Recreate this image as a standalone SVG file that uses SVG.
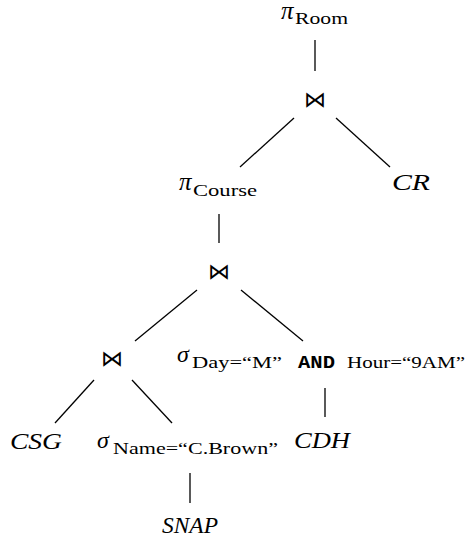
<svg xmlns="http://www.w3.org/2000/svg" width="468" height="544" viewBox="0 0 468 544">
<style>
text{font-family:"Liberation Serif","Times New Roman",serif;fill:#000}
.m{font-size:24px}
.p{font-size:25px;font-style:italic}
.s{font-size:17.5px}
.i{font-style:italic}
.tt{font-family:"Liberation Mono","Courier New",monospace;font-weight:bold}
.bt{font-family:"DejaVu Sans",sans-serif;font-size:22px;text-anchor:middle}
line{stroke:#000;stroke-width:1.3}
</style>
<rect width="468" height="544" fill="#fff"/>
<g id="connectors">
<line x1="315" y1="40" x2="315" y2="71"/>
<line x1="294" y1="118" x2="240" y2="167"/>
<line x1="336" y1="118" x2="390" y2="167"/>
<line x1="219" y1="214" x2="219" y2="243"/>
<line x1="197" y1="290" x2="135" y2="341"/>
<line x1="241" y1="290" x2="303" y2="341"/>
<line x1="94" y1="380" x2="55" y2="423"/>
<line x1="132" y1="380" x2="172" y2="423"/>
<line x1="325" y1="388" x2="325" y2="417"/>
<line x1="190" y1="473" x2="190" y2="503"/>
</g>
<g id="proj-room"><text x="281" y="19" class="p">π</text><text x="295" y="24" class="s" textLength="53" lengthAdjust="spacingAndGlyphs">Room</text></g>
<g id="join1"><text x="315" y="107" class="bt">⋈</text></g>
<g id="proj-course"><text x="179" y="190" class="p">π</text><text x="193" y="196" class="s" textLength="64" lengthAdjust="spacingAndGlyphs">Course</text></g>
<g id="cr"><text x="392" y="190" class="m i" textLength="38" lengthAdjust="spacingAndGlyphs">CR</text></g>
<g id="join2"><text x="219" y="279" class="bt">⋈</text></g>
<g id="join3"><text x="112" y="366" class="bt">⋈</text></g>
<g id="sel-day"><text x="177" y="362" class="m i">σ</text><text x="192" y="368" class="s" textLength="90" lengthAdjust="spacingAndGlyphs">Day=“M”</text><text x="298" y="368" class="s tt" textLength="37" lengthAdjust="spacingAndGlyphs">AND</text><text x="347" y="368" class="s" textLength="118" lengthAdjust="spacingAndGlyphs">Hour=“9AM”</text></g>
<g id="csg"><text x="10" y="449" class="m i" textLength="52" lengthAdjust="spacingAndGlyphs">CSG</text></g>
<g id="sel-name"><text x="97" y="448" class="m i">σ</text><text x="113" y="454" class="s" textLength="165" lengthAdjust="spacingAndGlyphs">Name=“C.Brown”</text></g>
<g id="cdh"><text x="294" y="448" class="m i" textLength="56" lengthAdjust="spacingAndGlyphs">CDH</text></g>
<g id="snap"><text x="162" y="533" class="m i" textLength="56" lengthAdjust="spacingAndGlyphs">SNAP</text></g>
</svg>
